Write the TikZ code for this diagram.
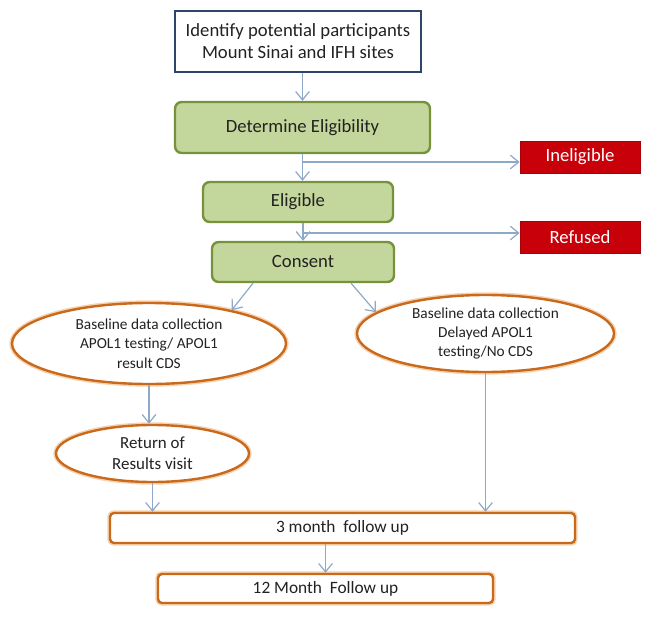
\documentclass[tikz,border=0pt]{standalone}
\usepackage{fontspec}
\setmainfont{Carlito}
\usepackage{tikz}
\usetikzlibrary{arrows.meta,positioning,shapes.geometric}
\definecolor{linkblue}{HTML}{8EA8C8}
\definecolor{leafgreen}{HTML}{C3D69B}
\definecolor{leafedge}{HTML}{76923C}
\definecolor{navyedge}{HTML}{2E4469}
\definecolor{rustedge}{HTML}{C8691C}
\definecolor{rustglow}{HTML}{F6D2B0}
\definecolor{alertred}{HTML}{C8000A}
\definecolor{inktext}{HTML}{222222}

\begin{document}
\begin{tikzpicture}[
    x=0.75pt, y=-0.75pt,
    every node/.style={text=inktext, align=center},
    startbox/.style={draw=navyedge, line width=2.2pt, fill=white, font=\fontsize{14}{16.5}\selectfont,
        minimum width=184.5pt, minimum height=45.75pt},
    greenbox/.style={draw=leafedge, line width=1.8pt, fill=leafgreen, rounded corners=5pt,
        font=\fontsize{14}{16}\selectfont},
    redbox/.style={draw=alertred!85!black, line width=0.6pt, fill=alertred, text=white,
        minimum width=90pt, minimum height=24pt, font=\fontsize{14}{16}\selectfont},
    armbox/.style={ellipse, draw=rustedge, line width=1.8pt, fill=white, inner sep=-3pt,
        preaction={draw=rustglow, line width=4pt},
        font=\fontsize{11.5}{14.6}\selectfont},
    visitbox/.style={draw=rustedge, line width=1.8pt, fill=white, rounded corners=3pt,
        preaction={draw=rustglow, line width=4pt},
        font=\fontsize{13}{15}\selectfont},
    arrow/.style={-{Straight Barb[length=2.2mm,width=3.6mm]}, draw=linkblue, line width=0.9pt}
]
\useasboundingbox (0,0) rectangle (649,617);

% central column
\node[startbox] (ident) at (298,41.5) {Identify potential participants\\Mount Sinai and IFH sites};
\node[greenbox, minimum width=191.25pt, minimum height=38.25pt] (determ) at (302.5,127.5) {Determine Eligibility};
\node[greenbox, minimum width=142.5pt, minimum height=30pt] (elig) at (298,202) {Eligible};
\node[greenbox, minimum width=136.5pt, minimum height=30pt] (consent) at (303,262) {Consent};

% exclusions
\node[redbox] (inel) at (580,157) {Ineligible};
\node[redbox] (refus) at (580,237) {Refused};

% study arms
\node[armbox, minimum width=205.5pt, minimum height=60.75pt] (armcds) at (149,343.5)
    {Baseline data collection\\APOL1 testing/ APOL1\\result CDS};
\node[armbox, minimum width=192.75pt, minimum height=57.75pt] (armdelay) at (485.5,333.5)
    {Baseline data collection\\Delayed APOL1\\testing/No CDS};
\node[armbox, minimum width=144.75pt, minimum height=42.75pt,
      font=\fontsize{12.7}{15.5}\selectfont] (retvisit) at (152.5,453.5) {Return of\\Results visit};

% follow up
\node[visitbox, minimum width=348.75pt, minimum height=22.5pt] (three) at (342.5,528) {3 month\ \ follow up};
\node[visitbox, minimum width=251.25pt, minimum height=21.75pt] (twelve) at (325.5,588.5) {12 Month\ \ Follow up};

\coordinate (splitA) at (302.5,162);
\coordinate (splitB) at (303,233);

\draw[arrow] (ident.south -| determ.north) -- (determ.north);
\draw[arrow] (determ.south) -- (determ.south |- elig.north);
\draw[arrow] (splitA) -- (splitA -| inel.west);
\draw[arrow] (elig.south -| consent.north) -- (consent.north);
\draw[arrow] (splitB) -- (splitB -| refus.west);
\draw[arrow] ([xshift=-37.5pt]consent.south) -- (armcds.22.8);
\draw[arrow] ([xshift=36pt]consent.south) -- (armdelay.169);
\draw[arrow] (armcds.south) -- (armcds.south |- retvisit.north);
\draw[arrow] (retvisit.south) -- (retvisit.south |- three.north);
\draw[arrow] (armdelay.south) -- (armdelay.south |- three.north);
\draw[arrow] (twelve.north |- three.south) -- (twelve.north);
\end{tikzpicture}
\end{document}
